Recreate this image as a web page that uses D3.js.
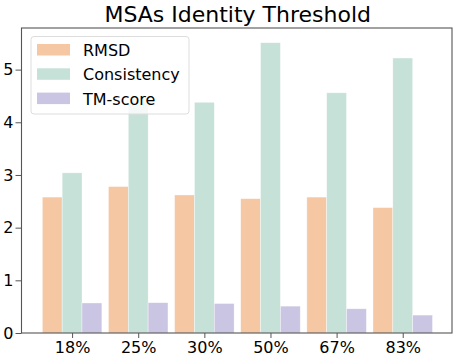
<!DOCTYPE html>
<html><head><meta charset="utf-8">
<script src="https://cdn.jsdelivr.net/npm/d3@7"></script>
<style>body{margin:0;background:#fff}svg{display:block}text{font-family:"DejaVu Sans",sans-serif}</style>
</head><body><svg id="c" width="458" height="359"></svg>
<script>
const categories = ["18%","25%","30%","50%","67%","83%"];
const rmsd = [2.58, 2.78, 2.62, 2.55, 2.58, 2.38];
const consistency = [3.04, 4.37, 4.38, 5.51, 4.56, 5.22];
const tmscore = [0.57, 0.575, 0.56, 0.51, 0.46, 0.34];
const seriesNames = ["RMSD","Consistency","TM-score"];
const colors = ["#f5c7a2","#c6e1d8","#cac5e2"];
const yTicks = [0,1,2,3,4,5];

const svg = d3.select("#c");
const L = 21.5, R = 452, T = 28, B = 333;
const x = d3.scaleLinear().domain([-0.765, 5.745]).range([L, R]);
const y = d3.scaleLinear().domain([0, 5.79]).range([B, T]);
const bw = 0.3;
const series = [rmsd, consistency, tmscore];

series.forEach((vals, s) => {
  svg.append("g").selectAll("rect").data(vals).join("rect")
    .attr("x", (d, i) => x(i + (s - 1) * bw - bw / 2))
    .attr("width", x(bw) - x(0))
    .attr("y", d => y(d))
    .attr("height", d => y(0) - y(d))
    .attr("fill", colors[s])
    .attr("stroke", "#ffffff").attr("stroke-width", 0.6).attr("stroke-opacity", 0.6);
});

// frame
svg.append("rect").attr("x", L).attr("y", T).attr("width", R - L).attr("height", B - T)
  .attr("fill", "none").attr("stroke", "#555").attr("stroke-width", 1.1);

// axes
const xAxis = d3.axisBottom(x).tickValues(d3.range(categories.length))
  .tickFormat(i => categories[i]).tickSize(5).tickPadding(4);
const gx = svg.append("g").attr("transform", `translate(0,${B})`).call(xAxis);
gx.select(".domain").remove();
gx.selectAll("line").attr("stroke", "#555");
gx.selectAll("text").attr("font-size", 16).attr("fill", "#000").attr("font-family", "DejaVu Sans");

const yAxis = d3.axisLeft(y).tickValues(yTicks).tickFormat(d3.format("d")).tickSize(6).tickPadding(2);
const gy = svg.append("g").attr("transform", `translate(${L},0)`).call(yAxis);
gy.select(".domain").remove();
gy.selectAll("line").attr("stroke", "#555");
gy.selectAll("text").attr("font-size", 16).attr("fill", "#000").attr("font-family", "DejaVu Sans");

// title
svg.append("text").attr("x", (L + R) / 2 + 1).attr("y", 22).attr("text-anchor", "middle")
  .attr("font-size", 22).attr("fill", "#000").text("MSAs Identity Threshold");

// legend
const lg = svg.append("g");
lg.append("rect").attr("x", 31).attr("y", 36.5).attr("width", 158).attr("height", 77.5)
  .attr("rx", 3).attr("fill", "#fff").attr("fill-opacity", 0.8).attr("stroke", "#ddd");
seriesNames.forEach((n, i) => {
  const yy = 50 + i * 24.3;
  lg.append("rect").attr("x", 37).attr("y", yy - 6).attr("width", 33).attr("height", 11.5).attr("fill", colors[i]);
  lg.append("text").attr("x", 83).attr("y", yy + 6).attr("font-size", 16).attr("fill", "#000").text(n);
});
</script></body></html>
